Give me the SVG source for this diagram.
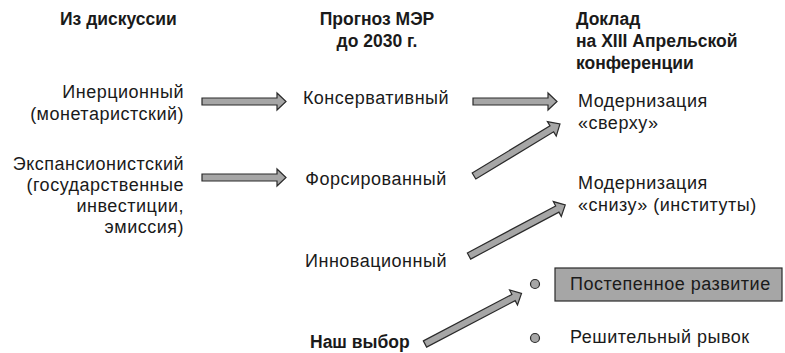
<svg xmlns="http://www.w3.org/2000/svg" width="785" height="353" viewBox="0 0 785 353">
<style>
text{font-family:"Liberation Sans",Arial,sans-serif;fill:#1a1a1a}
.h{font-size:17.5px;font-weight:bold}
.t{font-size:18px;letter-spacing:0.5px}
.r{text-anchor:end}
.c{text-anchor:middle}
.arrow{fill:#a6a6a6;stroke:#2a2a2a;stroke-width:1.2;stroke-linejoin:miter}
.dot{fill:#a6a6a6;stroke:#2a2a2a;stroke-width:1.2}
.box{fill:#a6a6a6;stroke:#2a2a2a;stroke-width:1.2}
</style>
<defs>
<path id="a84" d="M0,-3.5 H75 V-8.5 L84,0 L75,8.5 V3.5 H0 Z"/>
<path id="a100" d="M0,-3.5 H91 V-8.5 L100.5,0 L91,8.5 V3.5 H0 Z"/>
<path id="a109" d="M0,-3.5 H100 V-8.5 L109,0 L100,8.5 V3.5 H0 Z"/>
</defs>

<g id="headers">
<text class="h" x="60" y="25">Из дискуссии</text>
<text class="h c" x="377" y="25">Прогноз МЭР</text>
<text class="h c" x="377" y="47">до 2030 г.</text>
<text class="h" x="576" y="25">Доклад</text>
<text class="h" x="576" y="47">на XIII Апрельской</text>
<text class="h" x="576" y="69">конференции</text>
</g>

<g id="n-inertia">
<text class="t r" x="184" y="98">Инерционный</text>
<text class="t r" x="184" y="120">(монетаристский)</text>
</g>
<g id="n-expansion">
<text class="t r" x="184" y="170">Экспансионистский</text>
<text class="t r" x="184" y="191">(государственные</text>
<text class="t r" x="184" y="212">инвестиции,</text>
<text class="t r" x="184" y="233">эмиссия)</text>
</g>

<g id="n-conservative"><text class="t c" x="376" y="104">Консервативный</text></g>
<g id="n-forced"><text class="t c" x="376" y="185">Форсированный</text></g>
<g id="n-innovative"><text class="t c" x="376" y="267">Инновационный</text></g>
<g id="n-choice"><text class="h" x="310" y="348">Наш выбор</text></g>

<g id="n-top">
<text class="t" x="578" y="107">Модернизация</text>
<text class="t" x="578" y="129">«сверху»</text>
</g>
<g id="n-bottom">
<text class="t" x="578" y="189">Модернизация</text>
<text class="t" x="578" y="211">«снизу» (институты)</text>
</g>
<g id="n-gradual">
<circle class="dot" cx="535" cy="284" r="4.5"/>
<rect class="box" x="555" y="268" width="227" height="33"/>
<text class="t" x="570" y="290">Постепенное развитие</text>
</g>
<g id="n-leap">
<circle class="dot" cx="535" cy="338" r="4.5"/>
<text class="t" x="570" y="343">Решительный рывок</text>
</g>

<g id="connectors">
<use href="#a84" class="arrow" transform="translate(202,101.5)"/>
<use href="#a84" class="arrow" transform="translate(202,177.5)"/>
<use href="#a84" class="arrow" transform="translate(473,101.5)"/>
<use href="#a100" class="arrow" transform="translate(474,176) rotate(-31.2)"/>
<use href="#a109" class="arrow" transform="translate(469,256) rotate(-28)"/>
<use href="#a109" class="arrow" transform="translate(425,344) rotate(-27.7)"/>
</g>
</svg>
